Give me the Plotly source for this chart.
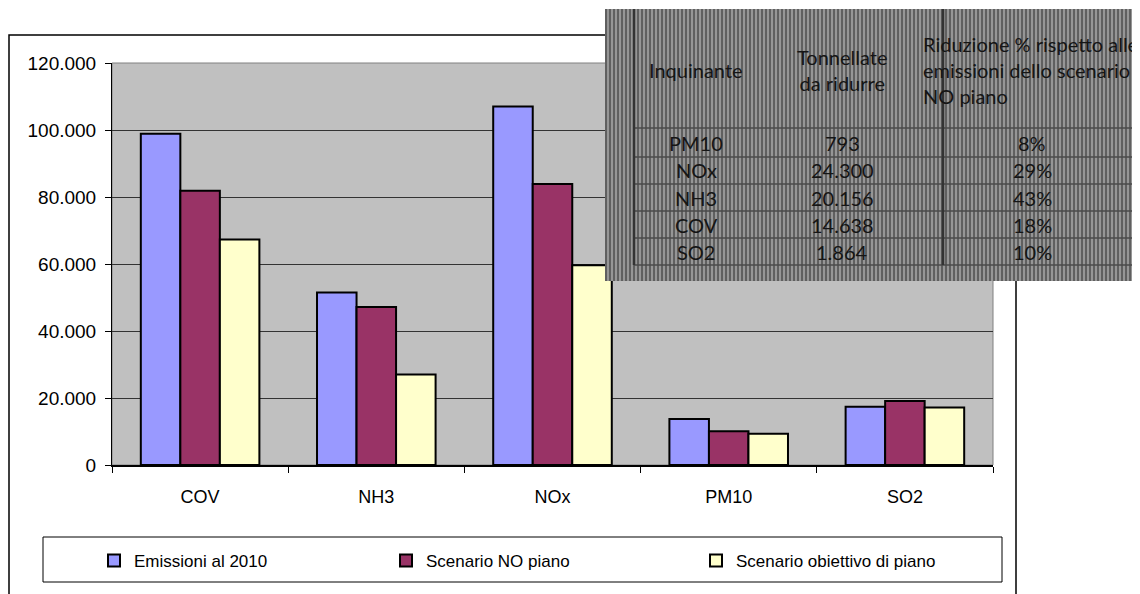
import plotly.graph_objects as go

categories = ["COV", "NH3", "NOx", "PM10", "SO2"]
series_names = ["Emissioni al 2010", "Scenario NO piano", "Scenario obiettivo di piano"]
emissioni_2010 = [98900, 51500, 107000, 13700, 17400]
scenario_no_piano = [81900, 47200, 83900, 10100, 19100]
scenario_obiettivo = [67300, 27000, 59600, 9300, 17200]
colors = ["#9999ff", "#993366", "#ffffcc"]

table_header = ["Inquinante", "Tonnellate<br>da ridurre",
                "Riduzione % rispetto alle<br>emissioni dello scenario<br>NO piano"]
table_pollutants = ["PM10", "NOx", "NH3", "COV", "SO2"]
table_tonnes = ["793", "24.300", "20.156", "14.638", "1.864"]
table_pct = ["8%", "29%", "43%", "18%", "10%"]

W, H = 1140, 594
OFF = 8  # page body margin
PL, PR, PT, PB = 112, 993, 63, 465  # plot area in screenshot pixels


def px(x):
    return (x - PL) / (PR - PL)


def py(y):
    return (PB - y) / (PB - PT)


fig = go.Figure()
legend_ids = ["legend", "legend2", "legend3"]
for name, vals, col, lg in zip(series_names, [emissioni_2010, scenario_no_piano, scenario_obiettivo], colors, legend_ids):
    fig.add_trace(go.Bar(x=categories, y=vals, name=name, legend=lg,
                         marker=dict(color=col, line=dict(color="black", width=2))))

shapes = []
shapes.append(dict(type="rect", xref="paper", yref="paper", x0=px(9), x1=px(1016), y0=py(640), y1=py(35),
                   line=dict(color="black", width=1.5), fillcolor="rgba(0,0,0,0)", layer="below"))
shapes.append(dict(type="rect", xref="paper", yref="paper", x0=0, x1=1, y0=0, y1=1,
                   line=dict(color="#808080", width=1), layer="below"))
shapes.append(dict(type="rect", xref="paper", yref="paper", x0=px(43), x1=px(1002), y0=py(582), y1=py(537),
                   line=dict(color="black", width=1), fillcolor="white", layer="below"))
TX0, TX1, TY0, TY1 = 605, 1150, 9, 281
shapes.append(dict(type="rect", xref="paper", yref="paper", x0=px(TX0), x1=px(TX1), y0=py(TY1), y1=py(TY0),
                   line=dict(width=0), fillcolor="#969696", layer="above"))
for xs in range(TX0 + 1, TX1, 4):
    shapes.append(dict(type="line", xref="paper", yref="paper", x0=px(xs), x1=px(xs), y0=py(TY1), y1=py(TY0),
                       line=dict(color="#5a5a5a", width=1.8), layer="above"))
for yl in [128, 157, 184, 211, 238, 265]:
    shapes.append(dict(type="line", xref="paper", yref="paper", x0=px(634), x1=px(TX1), y0=py(yl), y1=py(yl),
                       line=dict(color="#4a4a4a", width=1.5), layer="above"))
for xl in [634, 943]:
    shapes.append(dict(type="line", xref="paper", yref="paper", x0=px(xl), x1=px(xl), y0=py(265), y1=py(TY0),
                       line=dict(color="#333333", width=2.5), layer="above"))

annotations = []
tfont = dict(family="Lato", size=20, color="#151515")
annotations.append(dict(xref="paper", yref="paper", x=px(696), y=py(70), text=table_header[0],
                        showarrow=False, font=tfont, xanchor="center", yanchor="middle"))
annotations.append(dict(xref="paper", yref="paper", x=px(842), y=py(70), text=table_header[1],
                        showarrow=False, font=tfont, xanchor="center", yanchor="middle"))
annotations.append(dict(xref="paper", yref="paper", x=px(921), y=py(70), text=table_header[2],
                        showarrow=False, font=tfont, xanchor="left", yanchor="middle", align="left"))
row_y = [143, 170, 198, 225, 252]
for p_, t_, pc_, ry in zip(table_pollutants, table_tonnes, table_pct, row_y):
    annotations.append(dict(xref="paper", yref="paper", x=px(696), y=py(ry), text=p_,
                            showarrow=False, font=tfont, xanchor="center", yanchor="middle"))
    annotations.append(dict(xref="paper", yref="paper", x=px(842), y=py(ry), text=t_,
                            showarrow=False, font=tfont, xanchor="center", yanchor="middle"))
    annotations.append(dict(xref="paper", yref="paper", x=px(1032), y=py(ry), text=pc_,
                            showarrow=False, font=tfont, xanchor="center", yanchor="middle"))

lfont = dict(size=17, family="Liberation Sans, Arial", color="black")
legend_common = dict(orientation="h", xanchor="left", yanchor="middle", y=py(561), font=lfont,
                     bgcolor="rgba(0,0,0,0)", borderwidth=0, itemwidth=30)

fig.update_layout(
    width=W, height=H,
    margin=dict(l=PL - OFF, r=W - (PR - OFF), t=PT - OFF, b=H - (PB - OFF)),
    paper_bgcolor="white", plot_bgcolor="#c0c0c0",
    separators=",.",
    barmode="group", bargap=0.327, bargroupgap=0,
    font=dict(family="Liberation Sans, Arial", color="black"),
    showlegend=True,
    legend=dict(x=px(94), **legend_common),
    legend2=dict(x=px(386), **legend_common),
    legend3=dict(x=px(696), **legend_common),
    shapes=shapes, annotations=annotations,
)
fig.update_xaxes(showline=True, linecolor="black", linewidth=1.5, ticks="outside", tickson="boundaries",
                 ticklen=6, tickcolor="black", tickfont=dict(size=18), ticklabelstandoff=15,
                 showgrid=False)
fig.update_yaxes(range=[0, 120000], dtick=20000, tickformat=",.0f", showline=True, linecolor="black",
                 linewidth=1, ticks="outside", ticklen=6, tickcolor="black", tickfont=dict(size=19),
                 ticklabelstandoff=5,
                 showgrid=True, gridcolor="#333333", gridwidth=1, zeroline=False)

fig.write_html("out.html")
